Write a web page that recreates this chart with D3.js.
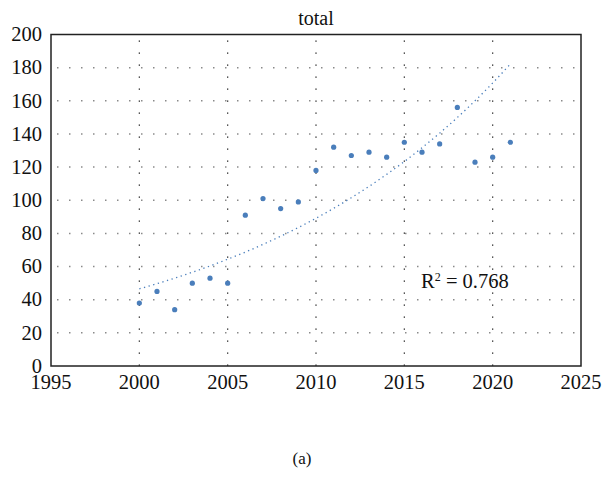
<!DOCTYPE html>
<html>
<head>
<meta charset="utf-8">
<script src="https://cdn.jsdelivr.net/npm/d3@7"></script>
<style>
  body { margin: 0; background: #fff; }
</style>
</head>
<body>
<script>
var years = [2000, 2001, 2002, 2003, 2004, 2005, 2006, 2007, 2008, 2009, 2010,
             2011, 2012, 2013, 2014, 2015, 2016, 2017, 2018, 2019, 2020, 2021];
var totals = [38, 45, 34, 50, 53, 50, 91, 101, 95, 99, 118,
              132, 127, 129, 126, 135, 129, 134, 156, 123, 126, 135];
var xTicks = [1995, 2000, 2005, 2010, 2015, 2020, 2025];
var yTicks = [0, 20, 40, 60, 80, 100, 120, 140, 160, 180, 200];
var title = "total";
var rSquared = "0.768";

var svg = d3.select("body").append("svg")
    .attr("width", 602)
    .attr("height", 498)
    .attr("font-family", "Liberation Serif");

var margin = {top: 34.5, right: 21, bottom: 132, left: 51},
    width = 602 - margin.left - margin.right,
    height = 498 - margin.top - margin.bottom,
    g = svg.append("g").attr("transform", "translate(" + margin.left + "," + margin.top + ")");

var x = d3.scaleLinear().domain([1995, 2025]).range([0, width]),
    y = d3.scaleLinear().domain([0, 200]).range([height, 0]);

// horizontal grid (grey dots)
g.selectAll(".hgrid")
  .data(yTicks.filter(function(d) { return d > 0 && d < 200; }))
  .enter().append("line")
    .attr("x1", 0).attr("x2", width)
    .attr("y1", function(d) { return y(d); })
    .attr("y2", function(d) { return y(d); })
    .attr("stroke", "#8a8a8a")
    .attr("stroke-width", 1.5)
    .attr("stroke-dasharray", "1.5,10.5")
    .attr("stroke-dashoffset", -6);

// vertical grid (black dots)
g.selectAll(".vgrid")
  .data(xTicks.filter(function(d) { return d > 1995 && d < 2025; }))
  .enter().append("line")
    .attr("x1", function(d) { return x(d); })
    .attr("x2", function(d) { return x(d); })
    .attr("y1", 0).attr("y2", height)
    .attr("stroke", "#111")
    .attr("stroke-width", 1.2)
    .attr("stroke-dasharray", "1.2,10.8")
    .attr("stroke-dashoffset", -6);

// exponential trend line fitted on the data
var n = years.length, sx = 0, sy = 0, sxx = 0, sxy = 0;
years.forEach(function(yr, i) {
  var t = yr - 2000, l = Math.log(totals[i]);
  sx += t; sy += l; sxx += t * t; sxy += t * l;
});
var b = (n * sxy - sx * sy) / (n * sxx - sx * sx),
    a = (sy - b * sx) / n;
var trend = years.map(function(yr) { return {year: yr, value: Math.exp(a + b * (yr - 2000))}; });

var line = d3.line()
    .curve(d3.curveMonotoneX)
    .x(function(d) { return x(d.year); })
    .y(function(d) { return y(d.value); });

g.append("path")
    .datum(trend)
    .attr("fill", "none")
    .attr("stroke", "#4a7ebb")
    .attr("stroke-width", 1.3)
    .attr("stroke-dasharray", "1.3,3.5")
    .attr("d", line);

// points
g.selectAll(".dot")
  .data(years)
  .enter().append("circle")
    .attr("cx", function(d) { return x(d); })
    .attr("cy", function(d, i) { return y(totals[i]); })
    .attr("r", 2.6)
    .attr("fill", "#4a7ebb");

// frame
g.append("rect")
    .attr("width", width).attr("height", height)
    .attr("fill", "none")
    .attr("stroke", "#222")
    .attr("stroke-width", 1.5);

// y axis labels
g.selectAll(".ylab")
  .data(yTicks)
  .enter().append("text")
    .attr("x", -9)
    .attr("y", function(d) { return y(d); })
    .attr("dy", "0.33em")
    .attr("text-anchor", "end")
    .attr("font-size", 20.5)
    .attr("fill", "#111")
    .text(function(d) { return d; });

// x axis labels
g.selectAll(".xlab")
  .data(xTicks)
  .enter().append("text")
    .attr("x", function(d) { return x(d); })
    .attr("y", height + 23)
    .attr("text-anchor", "middle")
    .attr("font-size", 20.5)
    .attr("fill", "#111")
    .text(function(d) { return d; });

// title
svg.append("text")
    .attr("x", margin.left + width / 2)
    .attr("y", 25)
    .attr("text-anchor", "middle")
    .attr("font-size", 20)
    .attr("fill", "#111")
    .text(title);

// R squared
var rt = g.append("text")
    .attr("x", x(2015.95))
    .attr("y", y(47))
    .attr("font-size", 20.5)
    .attr("fill", "#111");
rt.append("tspan").text("R");
rt.append("tspan").attr("dy", -7).attr("font-size", 12).text("2");
rt.append("tspan").attr("dy", 7).text(" = " + rSquared);

// caption
svg.append("text")
    .attr("x", 302)
    .attr("y", 464)
    .attr("text-anchor", "middle")
    .attr("font-size", 17)
    .attr("fill", "#111")
    .text("(a)");
</script>
</body>
</html>
